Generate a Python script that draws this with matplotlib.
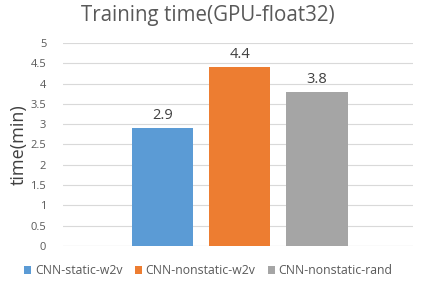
import matplotlib.pyplot as plt

# Data
models = ['CNN-static-w2v', 'CNN-nonstatic-w2v', 'CNN-nonstatic-rand']
times = [2.9, 4.4, 3.8]
colors = ['#5B9BD5', '#ED7D31', '#A5A5A5']
yticks = [0, 0.5, 1, 1.5, 2, 2.5, 3, 3.5, 4, 4.5, 5]

plt.rcParams['font.family'] = ['Open Sans', 'DejaVu Sans']

fig = plt.figure(figsize=(4.25, 2.88), dpi=100)
ax = fig.add_axes([0.148, 0.146, 0.824, 0.705])

x = range(len(models))
bars = ax.bar(x, times, width=0.8, color=colors, label=models, zorder=3)
for xi, v in zip(x, times):
    ax.text(xi, v + 0.12, f'{v}', ha='center', va='bottom', fontsize=10.5, color='#404040')

ax.set_xlim(-1.29, 3.25)
ax.set_ylim(0, 5)
ax.set_yticks(yticks)
ax.set_yticklabels([f'{t:g}' for t in yticks])
ax.set_xticks([])
ax.grid(axis='y', color='#D9D9D9', linewidth=0.8, zorder=0)
ax.tick_params(axis='y', length=0, labelsize=8, labelcolor='#595959', pad=12)
for s in ax.spines.values():
    s.set_visible(False)
ax.axhline(0, color='#D9D9D9', linewidth=0.8, zorder=1)

ax.set_ylabel('time(min)', fontsize=13, color='#404040', labelpad=2)
fig.text(0.49, 0.945, 'Training time(GPU-float32)', ha='center', va='center',
         fontsize=14.8, color='#595959')

fig.legend(handles=bars, labels=models, loc='lower center', ncol=3,
           bbox_to_anchor=(0.49, 0.0), frameon=False, fontsize=8.8,
           handlelength=0.6, handleheight=0.6, handletextpad=0.3,
           columnspacing=1.0, labelcolor='#595959')

fig.savefig('out.png', dpi=100)
